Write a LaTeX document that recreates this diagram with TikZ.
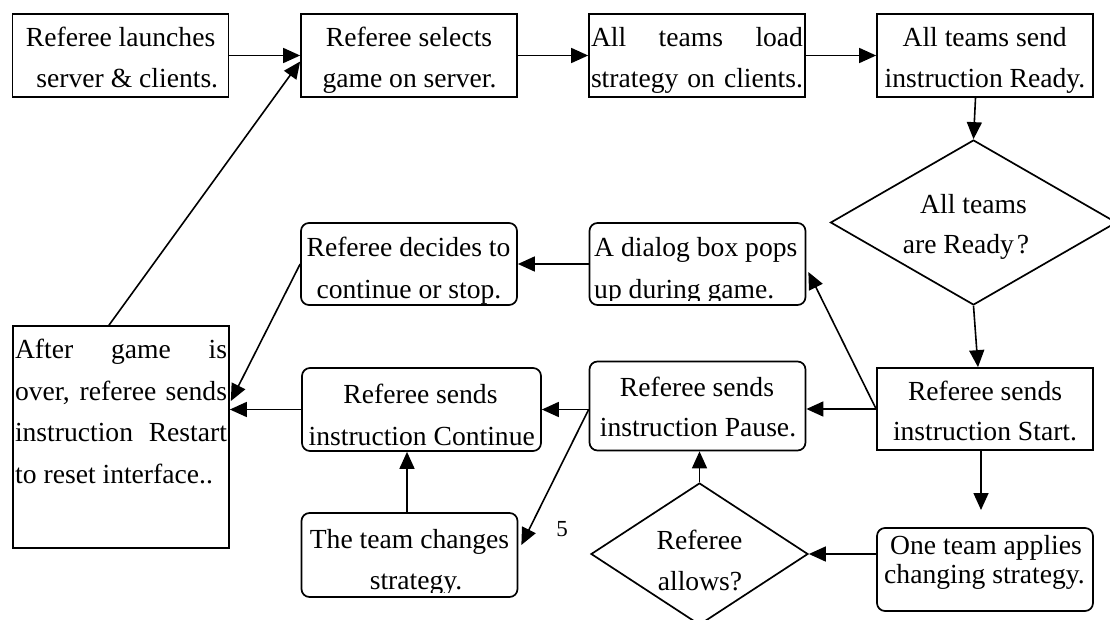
\documentclass[tikz,border=0pt]{standalone}
\usepackage{fontspec}
\setmainfont{Liberation Serif}
\usetikzlibrary{arrows.meta,shapes.geometric,calc}
\begin{document}
\begin{tikzpicture}[x=1pt,y=-1pt,
  every node/.style={font=\fontsize{27.6}{33}\selectfont},
  sbox/.style={draw, line width=1.7pt, inner sep=0pt, minimum width=216pt, minimum height=83pt},
  rbox/.style={sbox, rounded corners=8pt},
  dbox/.style={draw, line width=1.7pt, shape=diamond, inner sep=0pt},
  txt/.style={inner sep=0pt, anchor=base},
  txtl/.style={inner sep=0pt, anchor=base west},
  arr/.style={line width=1.6pt, -{Triangle[length=17pt,width=15pt]}}
]
\path[use as bounding box] (0,0) rectangle (1110,620);

% boxes
\node[sbox] (A) at (120.5,55.5) {};
\node[sbox] (B) at (409,55.5) {};
\node[sbox] (C) at (697,55.5) {};
\node[sbox] (D) at (985,55.5) {};
\node[dbox, minimum width=286pt, minimum height=165pt] (Q1) at (973.5,222.5) {};
\node[sbox, minimum height=82pt] (S) at (985,409) {};
\node[rbox, minimum height=82pt] (Dl) at (697.5,264) {};
\node[rbox, minimum height=82pt] (De) at (409,264) {};
\node[sbox, minimum height=222pt] (Af) at (121,437) {};
\node[rbox, minimum width=239pt] (Co) at (421.5,409.5) {};
\node[rbox, minimum height=89pt] (P) at (697.5,406) {};
\node[rbox, minimum height=84pt] (T) at (409.5,555) {};
\node[dbox, minimum width=217pt, minimum height=142pt] (Q2) at (699.5,554) {};
\node[rbox] (O) at (985,569.5) {};

% texts
\node[txt] (tA1) at (120.6,46.7) {Referee launches};
\node[txt] (tA2) at (127.3,87.3) {server \& clients.};
\node[txt] (tB1) at (409,46.7) {Referee selects};
\node[txt] (tB2) at (409.5,87.3) {game on server.};
\node[txt] (tC1) at (697,46.7) {\makebox[212pt][s]{All teams load}};
\node[txt] (tC2) at (697,87.3) {\makebox[212pt][s]{strategy on clients.}};
\node[txt] (tD1) at (984.6,46.7) {All teams send};
\node[txt] (tD2) at (985,87.3) {instruction Ready.};
\node[txt] (tQ11) at (973.5,213.3) {All teams};
\node[txt] (tQ12) at (966,253.3) {are Ready\kern3pt?};
\node[txt] (tS1) at (985,400) {Referee sends};
\node[txt] (tS2) at (985,440.7) {instruction Start.};
\begin{scope}
  \clip (589,223) rectangle (806,300);
  \node[txtl] (tDl1) at (594,256.7) {A dialog box pops};
  \node[txtl] (tDl2) at (594,298.3) {up during game.};
\end{scope}
\node[txt] (tDe1) at (408.5,256.7) {Referee decides to};
\node[txt] (tDe2) at (409,298.3) {continue or stop.};
\node[txt] (tAf1) at (121,358.3) {\makebox[212pt][s]{After game is}};
\node[txt] (tAf2) at (121,400) {\makebox[212pt][s]{over, referee sends}};
\node[txt] (tAf3) at (121,441.7) {\makebox[212pt][s]{instruction Restart}};
\node[txtl] (tAf4) at (15,483.3) {to reset interface..};
\node[txt] (tCo1) at (420.5,403.3) {Referee sends};
\node[txt] (tCo2) at (421.7,445) {instruction Continue};
\node[txt] (tP1) at (697,396) {Referee sends};
\node[txt] (tP2) at (698,436.7) {instruction Pause.};
\begin{scope}
  \clip (302,513) rectangle (517,592);
  \node[txt] (tT1) at (409.5,548) {The team changes};
  \node[txt] (tT2) at (416,589.3) {strategy.};
\end{scope}
\node[txt] (tQ21) at (699.5,549.3) {Referee};
\node[txt] (tQ22) at (700,590) {allows?};
\node[txt] (tO1) at (986,554) {One team applies};
\node[txt] (tO2) at (984.5,583.3) {changing strategy.};
\node[txt, font=\fontsize{23}{27}\selectfont] (five) at (562,536) {5};

% connectors
\draw[arr] (A.east) -- (B.west);
\draw[arr] (B.east) -- (C.west);
\draw[arr] (C.east) -- (D.west);
\draw[arr] ($(D.south)+(-9.5,0)$) -- (Q1.north);
\draw[arr] (Q1.south) -- ($(S.north)+(-7,0)$);
\draw[arr] (S.west) -- (S.west -| P.east);
\draw[arr] (S.west) -- ($(Dl.east)+(2,8)$);
\draw[arr] (Dl.west) -- (De.east);
\draw[arr] (De.west) -- ($(Af.east)+(1,-36)$);
\draw[arr] (Co.west) -- (Co.west -| Af.east);
\draw[arr] ($(Af.north)+(-12,0)$) -- ($(B.west)+(0,6)$);
\draw[arr] (P.west |- Co.east) -- (Co.east);
\draw[arr] (P.west |- Co.east) -- ($(T.east)+(3,-10)$);
\draw[arr] ($(T.north)+(-2.5,0)$) -- ($(Co.south)+(-14.5,0)$);
\draw[arr] (Q2.north) -- (Q2.north |- P.south);
\draw[arr] (Q2.east -| O.west) -- (Q2.east);
\coordinate (OTin) at (981,510);
\draw[arr] ($(S.south)+(-4,0)$) -- (OTin);
\end{tikzpicture}
\end{document}
